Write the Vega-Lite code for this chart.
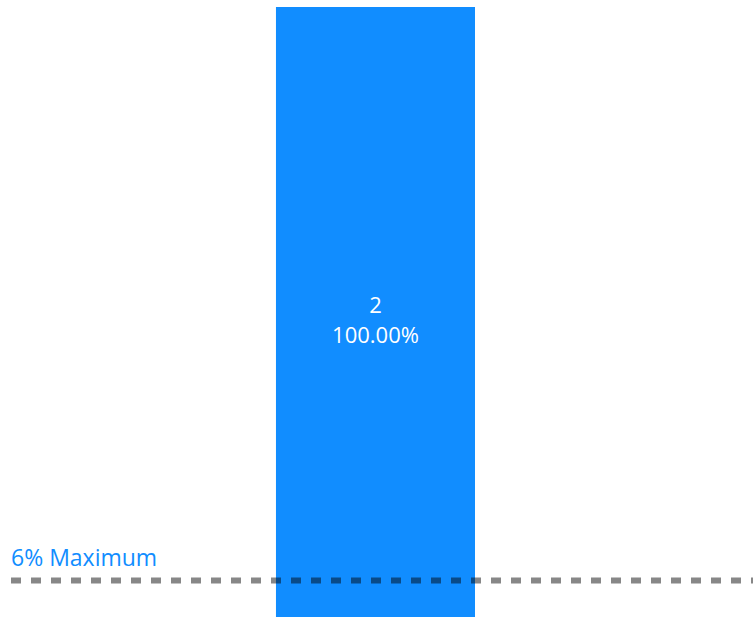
{
  "$schema": "https://vega.github.io/schema/vega-lite/v6.json",
  "width": 742,
  "height": 617,
  "autosize": {"type": "none"},
  "padding": {"left": 11, "top": 0, "right": 0, "bottom": 0},
  "background": "white",
  "config": {"view": {"stroke": null}, "font": "Open Sans"},
  "datasets": {
    "bars": [{"category": "A", "count": 2, "pct": 1.0}],
    "limit": [{"threshold": 0.06, "label": "6% Maximum"}]
  },
  "layer": [
    {
      "data": {"name": "bars"},
      "mark": {"type": "bar", "color": "#118DFF"},
      "encoding": {
        "x": {"field": "category", "type": "nominal", "axis": null,
              "scale": {"paddingInner": 0.5, "paddingOuter": 0.682, "align": 0.488}},
        "y": {"field": "pct", "type": "quantitative", "axis": null,
              "scale": {"domain": [0, 1.0115], "nice": false}}
      }
    },
    {
      "data": {"name": "bars"},
      "transform": [{"calculate": "datum.pct / 2", "as": "mid"}],
      "mark": {"type": "text", "color": "white", "fontSize": 22, "baseline": "middle", "dy": -6},
      "encoding": {
        "x": {"field": "category", "type": "nominal"},
        "y": {"field": "mid", "type": "quantitative"},
        "text": {"field": "count", "type": "quantitative"}
      }
    },
    {
      "data": {"name": "bars"},
      "transform": [{"calculate": "datum.pct / 2", "as": "mid"}],
      "mark": {"type": "text", "color": "white", "fontSize": 22, "baseline": "middle", "dy": 24},
      "encoding": {
        "x": {"field": "category", "type": "nominal"},
        "y": {"field": "mid", "type": "quantitative"},
        "text": {"field": "pct", "type": "quantitative", "format": ".2%"}
      }
    },
    {
      "data": {"name": "limit"},
      "mark": {"type": "rule", "color": "black", "opacity": 0.47, "strokeWidth": 6,
               "strokeDash": [10, 10], "strokeDashOffset": 8},
      "encoding": {
        "y": {"field": "threshold", "type": "quantitative"}
      }
    },
    {
      "data": {"name": "limit"},
      "mark": {"type": "text", "color": "#118DFF", "fontSize": 23, "align": "left",
               "baseline": "alphabetic", "dx": 0, "dy": -14},
      "encoding": {
        "x": {"value": 0},
        "y": {"field": "threshold", "type": "quantitative"},
        "text": {"field": "label", "type": "nominal"}
      }
    }
  ]
}
